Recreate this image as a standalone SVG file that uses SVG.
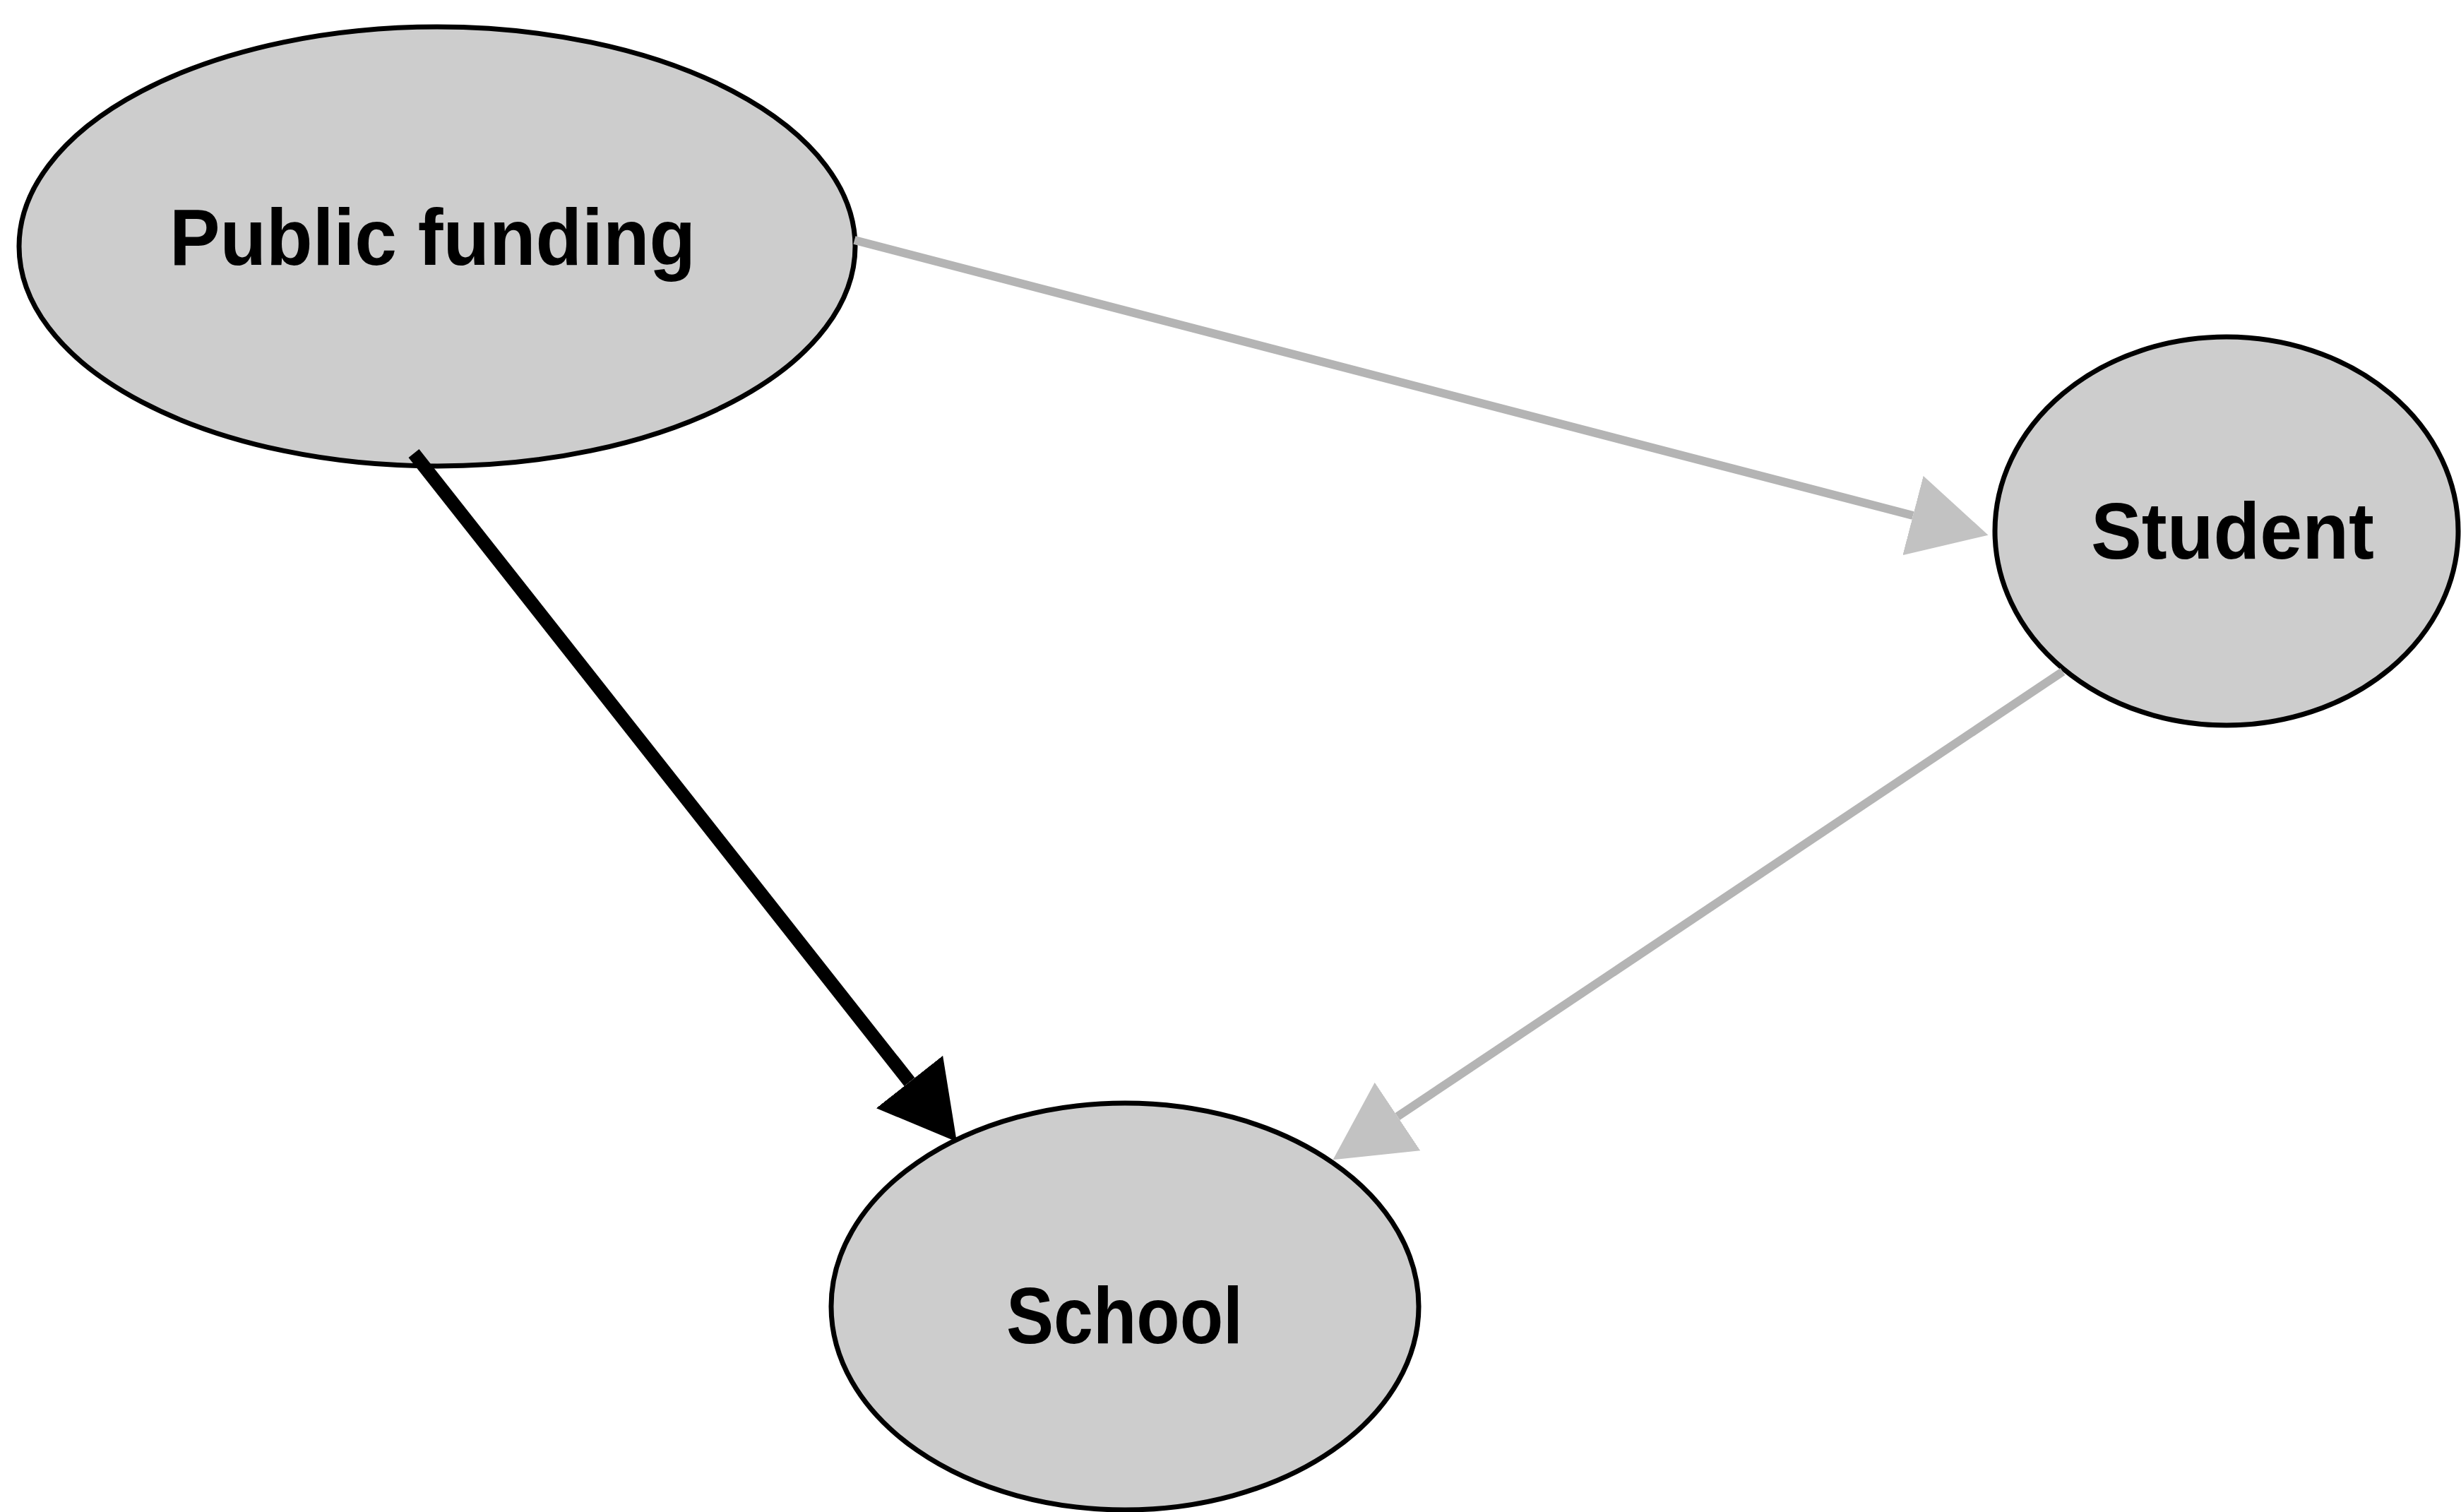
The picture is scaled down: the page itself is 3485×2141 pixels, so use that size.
<svg xmlns="http://www.w3.org/2000/svg" width="3485" height="2141" viewBox="0 0 3485 2141">
<style>
.node{fill:#cdcdcd;stroke:#000;stroke-width:7}
.lbl{font-family:"Liberation Sans",Arial,sans-serif;font-weight:bold;font-size:114px;fill:#000}
.strong{fill:none;stroke:#000;stroke-width:19}
.weak{fill:none;stroke:#b4b4b4;stroke-width:12}
</style>
<defs>
<marker id="ahBlack" markerUnits="userSpaceOnUse" markerWidth="110" markerHeight="120" refX="0" refY="60" orient="auto">
<path d="M0,0 L108,60 L0,120 z" fill="#000"/>
</marker>
<marker id="ahGray" markerUnits="userSpaceOnUse" markerWidth="112" markerHeight="116" refX="0" refY="58" orient="auto">
<path d="M0,0 L110,58 L0,116 z" fill="#c2c2c2"/>
</marker>
</defs>
<rect width="3485" height="2141" fill="#fff"/>
<g id="node-public-funding">
<ellipse class="node" cx="619" cy="349" rx="592" ry="311"/>
<text class="lbl" x="240" y="375" textLength="745" lengthAdjust="spacingAndGlyphs">Public funding</text>
</g>
<g id="node-student">
<ellipse class="node" cx="3153" cy="752" rx="328" ry="275"/>
<text class="lbl" x="2961" y="791" textLength="401" lengthAdjust="spacingAndGlyphs">Student</text>
</g>
<g id="node-school">
<ellipse class="node" cx="1593" cy="1850" rx="416" ry="288"/>
<text class="lbl" x="1425" y="1902" textLength="335" lengthAdjust="spacingAndGlyphs">School</text>
</g>
<g id="connectors">
<path id="e-funding-school" class="strong" d="M586,642 L1288,1532" marker-end="url(#ahBlack)"/>
<path id="e-funding-student" class="weak" d="M1210,340 L2709,730" marker-end="url(#ahGray)"/>
<path id="e-student-school" class="weak" d="M2921,951 L1979,1581" marker-end="url(#ahGray)"/>
</g>
</svg>
